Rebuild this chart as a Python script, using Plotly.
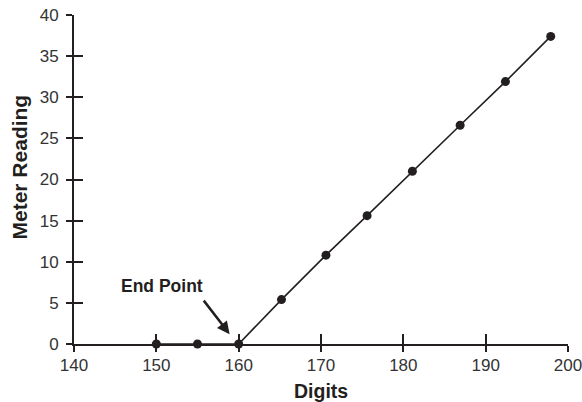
import plotly.graph_objects as go

# data
digits = [150, 155, 160, 165.2, 170.6, 175.6, 181.1, 186.9, 192.4, 197.9]
meter_reading = [0, 0, 0, 5.4, 10.8, 15.6, 21.0, 26.6, 31.9, 37.4]

x_ticks = [140, 150, 160, 170, 180, 190, 200]
y_ticks = [0, 5, 10, 15, 20, 25, 30, 35, 40]

INK = "#231f20"
FONT = "Liberation Sans, Arial, sans-serif"
tick_font = dict(family=FONT, size=17, color="#333")

fig = go.Figure()
fig.add_trace(go.Scatter(
    x=digits, y=meter_reading, mode="lines+markers",
    line=dict(color=INK, width=1.6),
    marker=dict(color=INK, size=9),
    cliponaxis=False, showlegend=False, hoverinfo="skip",
))
# dummy trace so the overlaid axes (inner half of the crossing ticks) get drawn
fig.add_trace(go.Scatter(x=[digits[0]], y=[meter_reading[0]], xaxis="x2", yaxis="y2",
                         mode="markers", marker=dict(opacity=0), showlegend=False,
                         hoverinfo="skip"))

common = dict(showgrid=False, zeroline=False, showline=True, linecolor=INK, linewidth=2,
              tickcolor=INK, tickwidth=2, automargin=False)

fig.update_layout(
    width=582, height=402,
    margin=dict(l=74, r=14, t=15, b=58),
    plot_bgcolor="white", paper_bgcolor="white",
    xaxis=dict(range=[140, 200], tickvals=x_ticks, ticks="outside", ticklen=6,
               tickfont=tick_font, ticklabelstandoff=-1, ticklabeloverflow="allow",
               **common),
    yaxis=dict(range=[0, 40], tickvals=y_ticks, ticks="outside", ticklen=6,
               tickfont=tick_font, ticklabelstandoff=4, ticklabeloverflow="allow",
               **common),
    xaxis2=dict(range=[140, 200], tickvals=x_ticks, ticks="inside", ticklen=10,
                showticklabels=False, overlaying="x", anchor="y2", side="bottom", **common),
    yaxis2=dict(range=[0, 40], tickvals=y_ticks, ticks="inside", ticklen=9,
                showticklabels=False, overlaying="y", anchor="x2", side="left", **common),
)

# axis titles as annotations for exact placement
fig.add_annotation(text="Digits", xref="paper", yref="paper", x=0.5, y=0,
                   yanchor="middle", yshift=-47, showarrow=False,
                   font=dict(family=FONT, size=19.5, color=INK, weight="bold"))
fig.add_annotation(text="Meter Reading", xref="paper", yref="paper", x=0, y=0.5,
                   xanchor="center", xshift=-55, yshift=12, textangle=-90,
                   showarrow=False,
                   font=dict(family=FONT, size=21, color=INK, weight="bold"))

fig.add_annotation(x=150.7, y=7.0, text="End Point", showarrow=False,
                   font=dict(family=FONT, size=17.5, color=INK, weight="bold"))
fig.add_annotation(x=158.9, y=1.2, text="", showarrow=True, ax=-27, ay=-35,
                   arrowhead=2, arrowsize=1, arrowwidth=2.5, arrowcolor=INK)

# drop the default page margin so the figure sits at the window's corner
fig.write_html("out.html", config={"displayModeBar": False},
               post_script="document.body.style.margin='0';")
